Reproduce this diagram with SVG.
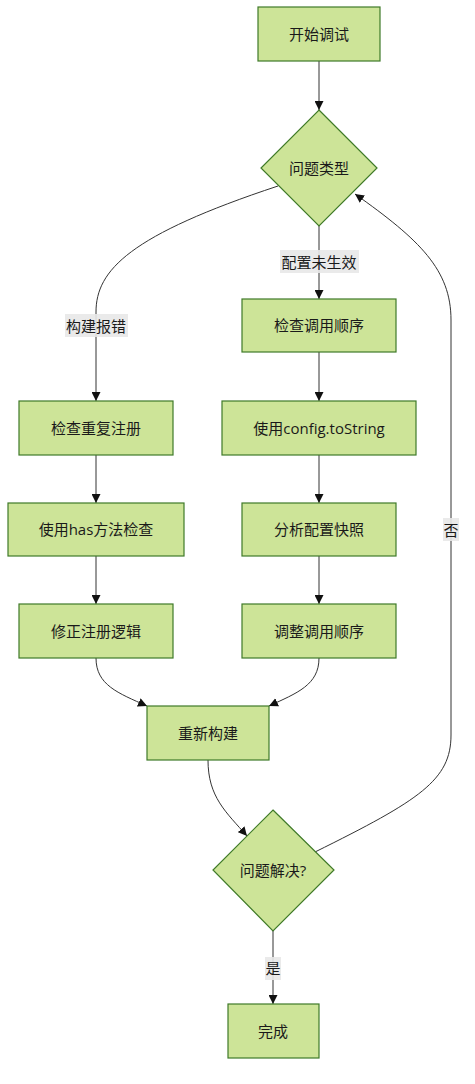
<svg xmlns="http://www.w3.org/2000/svg" width="475" height="1084" viewBox="0 0 475 1084">
<defs>
<marker id="arr" viewBox="0 0 10 10" refX="10" refY="5" markerWidth="9" markerHeight="9" markerUnits="userSpaceOnUse" orient="auto">
<path d="M0,0 L10,5 L0,10 z" fill="#111"/>
</marker>
<style>
.node rect, .node polygon { fill: #cde498; stroke: #3f7a28; stroke-width: 1.2; }
.node text { font-family: "Open Sans", "Noto Sans CJK SC", sans-serif; font-size: 15px; fill: #1a1a1a; text-anchor: middle; dominant-baseline: central; }
.edge { fill: none; stroke: #333; stroke-width: 1; marker-end: url(#arr); }
.lbl rect { fill: #e8e8e8; opacity: 0.9; }
.lbl text { font-family: "Open Sans", "Noto Sans CJK SC", sans-serif; font-size: 15px; fill: #1a1a1a; text-anchor: middle; dominant-baseline: central; }
</style>
</defs>
<rect width="475" height="1084" fill="#fff"/>
<g id="connectors">
<path class="edge" d="M319,61 L319,110"/>
<path class="edge" d="M278,186 C130,235 96,270 96,312 L96,401"/>
<path class="edge" d="M319,226 L319,299"/>
<path class="edge" d="M319,352 L319,401"/>
<path class="edge" d="M319,455 L319,503"/>
<path class="edge" d="M319,556 L319,604"/>
<path class="edge" d="M96,455 L96,503"/>
<path class="edge" d="M96,556 L96,604"/>
<path class="edge" d="M96,658 C96,685 118,693 147,706"/>
<path class="edge" d="M319,658 C319,685 297,693 269,706"/>
<path class="edge" d="M208,760 C208,797 226,812 247,836"/>
<path class="edge" d="M273,931 L273,1004"/>
<path class="edge" d="M315,852 C420,800 451,780 451,735 L451,320 C451,270 420,240 355,194"/>
</g>
<g id="labels">
<g class="lbl"><rect x="280" y="250" width="79" height="23"/><text x="319" y="262">配置未生效</text></g>
<g class="lbl"><rect x="65" y="314" width="63" height="23"/><text x="96" y="326">构建报错</text></g>
<g class="lbl"><rect x="443" y="518" width="16" height="23"/><text x="451" y="530">否</text></g>
<g class="lbl"><rect x="265" y="957" width="16" height="23"/><text x="273" y="968">是</text></g>
</g>
<g id="start" class="node"><rect x="258" y="7" width="122" height="54"/><text x="319" y="34">开始调试</text></g>
<g id="type" class="node"><polygon points="319,110 377,168 319,226 261,168"/><text x="319" y="168">问题类型</text></g>
<g id="checkDup" class="node"><rect x="19" y="401" width="154" height="54"/><text x="96" y="428">检查重复注册</text></g>
<g id="hasCheck" class="node"><rect x="8" y="503" width="176" height="53"/><text x="96" y="529">使用has方法检查</text></g>
<g id="fixReg" class="node"><rect x="19" y="604" width="154" height="54"/><text x="96" y="631">修正注册逻辑</text></g>
<g id="checkOrder" class="node"><rect x="242" y="299" width="154" height="53"/><text x="319" y="325">检查调用顺序</text></g>
<g id="toString" class="node"><rect x="222" y="401" width="194" height="54"/><text x="319" y="428">使用config.toString</text></g>
<g id="snapshot" class="node"><rect x="242" y="503" width="154" height="53"/><text x="319" y="529">分析配置快照</text></g>
<g id="adjust" class="node"><rect x="242" y="604" width="154" height="54"/><text x="319" y="631">调整调用顺序</text></g>
<g id="rebuild" class="node"><rect x="147" y="706" width="122" height="54"/><text x="208" y="733">重新构建</text></g>
<g id="solved" class="node"><polygon points="273,810 334,870 273,931 213,870"/><text x="273" y="870">问题解决?</text></g>
<g id="done" class="node"><rect x="228" y="1004" width="91" height="54"/><text x="273" y="1031">完成</text></g>
</svg>
